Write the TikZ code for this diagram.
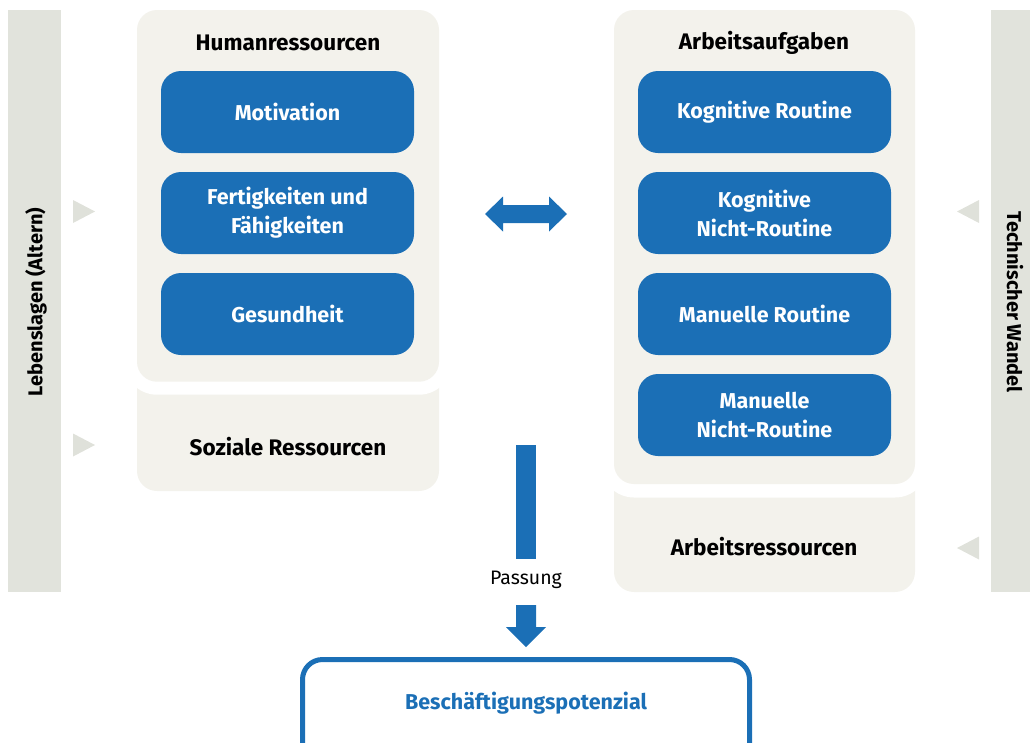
\documentclass[tikz,border=0pt]{standalone}
\usepackage{fontspec}
\setmainfont{Fira Sans}
\definecolor{myblue}{HTML}{1B6FB6}
\definecolor{panelc}{HTML}{F3F2EC}
\definecolor{barc}{HTML}{E1E3DC}
\definecolor{tric}{HTML}{DFE1DA}
\begin{document}
\begin{tikzpicture}[x=1pt,y=-1pt,
  bluebox/.style={fill=myblue, rounded corners=20pt, text=white,
    font=\bfseries\fontsize{21.5}{29}\selectfont, align=center,
    minimum width=253pt, minimum height=82pt, inner sep=0pt},
  paneltitle/.style={font=\bfseries\fontsize{22.5}{26}\selectfont, text=black, inner sep=0pt},
  sidelabel/.style={font=\bfseries\fontsize{20}{22}\selectfont, text=black, inner sep=0pt},
  tri/.style={fill=tric},
  panelfill/.style={fill=panelc, rounded corners=20pt},
  gapfill/.style={fill=white, rounded corners=33pt},
  arrowfill/.style={fill=myblue},
]
\useasboundingbox (0,0) rectangle (1030,742);
\clip (0,0) rectangle (1030,742);

% side bars
\fill[barc] (8,10) rectangle (61,592);
\node[sidelabel, rotate=90] (lebens) at (36,302) {Lebenslagen (Altern)};
\fill[barc] (991,10) rectangle (1044,592);
\node[sidelabel, rotate=-90] (technik) at (1015,302) {Technischer Wandel};

% triangles
\fill[tri] (73,200) -- (95,211.5) -- (73,223) -- cycle;
\fill[tri] (73,433.5) -- (95,445) -- (73,456.5) -- cycle;
\fill[tri] (979,200) -- (957,211.5) -- (979,223) -- cycle;
\fill[tri] (979,536.5) -- (957,548) -- (979,559.5) -- cycle;

% left panels
\fill[panelfill] (137,360) rectangle (439,491);
\fill[gapfill] (124,-30) rectangle (452,394.7);
\fill[panelfill] (137,10) rectangle (439,381.7);
\node[paneltitle] (human) at (288,43) {Humanressourcen};
\node[paneltitle] (sozial) at (288,447) {Soziale Ressourcen};
\node[bluebox] (motiv) at (287.5,112) {Motivation};
\node[bluebox] (fert) at (287.5,213) {Fertigkeiten und\\Fähigkeiten};
\node[bluebox] (gesund) at (287.5,314) {Gesundheit};

% right panels
\fill[panelfill] (614,470) rectangle (915,592);
\fill[gapfill] (601,-30) rectangle (928,497.5);
\fill[panelfill] (614,10) rectangle (915,484);
\node[paneltitle] (aufg) at (764,43) {Arbeitsaufgaben};
\node[paneltitle] (ares) at (764,547) {Arbeitsressourcen};
\node[bluebox] (kr) at (764.5,112) {Kognitive Routine};
\node[bluebox] (knr) at (764.5,213) {Kognitive\\Nicht-Routine};
\node[bluebox] (mr) at (764.5,314) {Manuelle Routine};
\node[bluebox] (mnr) at (764.5,415) {Manuelle\\Nicht-Routine};

% double arrow
\fill[arrowfill] (485,214) -- (503,196.5) -- (503,205) -- (549,205) -- (549,196.5)
  -- (567,214) -- (549,231.5) -- (549,223) -- (503,223) -- (503,231.5) -- cycle;

% Passung bar and arrow
\fill[arrowfill] (516,445) rectangle (536,559);
\node[font=\fontsize{19.5}{22}\selectfont, inner sep=0pt] (pass) at (526,580) {Passung};
\fill[arrowfill] (516,605) -- (536,605) -- (536,627) -- (546,627) -- (526,647)
  -- (506,627) -- (516,627) -- cycle;

% bottom box
\draw[myblue, line width=5pt, rounded corners=20pt] (302.5,659.5) rectangle (749.5,780);
\node[font=\bfseries\fontsize{21.5}{24}\selectfont, text=myblue, inner sep=0pt] (besch) at (526,703) {Beschäftigungspotenzial};
\end{tikzpicture}
\end{document}
